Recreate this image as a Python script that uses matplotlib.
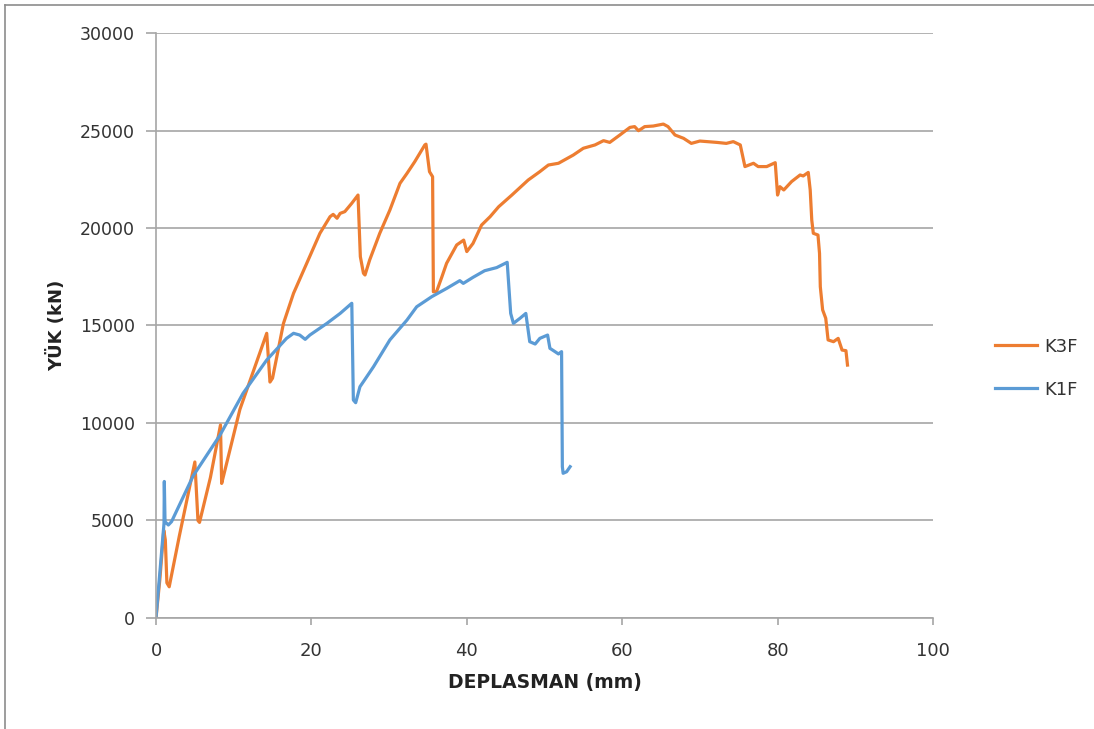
import matplotlib.pyplot as plt
from matplotlib.lines import Line2D

# K3F load-displacement curve
k3f_x = [0, 0.5, 1.0, 1.2, 1.4, 1.7, 3.0, 5.0, 5.4, 5.6, 7.0, 8.3, 8.45, 8.7, 10.8,
         14.25, 14.67, 15.0, 16.4, 17.7, 19.4, 21.1, 22.4, 22.8, 23.3, 23.7, 24.3,
         25.2, 26.0, 26.3, 26.7, 26.9, 27.5, 28.8, 30.1, 31.4, 32.3, 33.3, 34.6,
         34.75, 35.2, 35.6, 35.7, 36.1, 36.8, 37.4, 38.7, 39.6, 40.0, 40.8, 41.9,
         43.0, 44.1, 45.8, 47.9, 49.4, 50.5, 51.8, 53.7, 55.0, 56.5, 57.6, 58.4,
         59.7, 61.0, 61.6, 62.1, 62.9, 64.0, 65.3, 65.9, 66.8, 67.9, 68.9, 70.0,
         72.2, 73.4, 74.3, 75.2, 75.8, 76.9, 77.5, 78.6, 79.7, 80.0, 80.3, 80.8,
         81.8, 82.9, 83.3, 83.95, 84.2, 84.4, 84.6, 85.2, 85.4, 85.5, 85.8, 86.2,
         86.5, 87.2, 87.8, 88.3, 88.8, 89.0]
k3f_y = [0, 2000, 4500, 4000, 1800, 1600, 4200, 8000, 5000, 4900, 7200, 9900, 6900,
         7300, 10700, 14600, 12100, 12300, 15100, 16650, 18190, 19730, 20580,
         20700, 20500, 20750, 20840, 21270, 21690, 18530, 17680, 17590, 18360,
         19730, 20920, 22290, 22800, 23400, 24260, 24300, 22890, 22630, 16730,
         16730, 17500, 18190, 19130, 19380, 18790, 19210, 20150, 20580, 21090,
         21690, 22460, 22890, 23230, 23320, 23740, 24090, 24260, 24480, 24390,
         24770, 25160, 25200, 24990, 25200, 25230, 25330, 25200, 24770, 24600,
         24340, 24460, 24390, 24340, 24430, 24260, 23150, 23320, 23150, 23150,
         23350, 21690, 22120, 21950, 22380, 22720, 22670, 22850, 21950, 20410,
         19730, 19640, 18700, 16990, 15800, 15370, 14260, 14170, 14340, 13740,
         13710, 12970]

# K1F load-displacement curve
k1f_x = [0, 1.03, 1.07, 1.16, 1.59, 2.0, 4.8, 8.24, 11.2, 14.25, 16.8, 17.7, 18.5,
         19.2, 19.8, 22.0, 23.7, 25.2, 25.4, 25.7, 26.25, 26.9, 28.0, 30.1, 32.3,
         33.55, 35.5, 37.4, 39.1, 39.55, 40.8, 42.3, 43.85, 45.2, 45.65, 46.0,
         46.85, 47.6, 48.1, 48.8, 49.4, 50.4, 50.7, 51.35, 51.8, 52.2, 52.3, 52.4,
         52.85, 53.3]
k1f_y = [0, 4850, 7000, 4940, 4770, 4940, 7300, 9380, 11520, 13230, 14340, 14600,
         14510, 14290, 14510, 15110, 15620, 16140, 11180, 11040, 11860, 12240,
         12890, 14260, 15280, 15960, 16480, 16900, 17300, 17160, 17470, 17810,
         17970, 18240, 15620, 15110, 15370, 15620, 14170, 14050, 14340, 14510,
         13830, 13660, 13540, 13660, 7760, 7420, 7500, 7760]

x_ticks = [0, 20, 40, 60, 80, 100]
y_ticks = [0, 5000, 10000, 15000, 20000, 25000, 30000]

orange = '#ED7D31'
blue = '#5B9BD5'
grid_c = '#a6a6a6'

fig = plt.figure(figsize=(10.94, 7.29), dpi=100)
ax = fig.add_axes([0.1426, 0.1523, 0.7102, 0.8024])

ax.plot(k3f_x, k3f_y, color=orange, lw=2.3, solid_joinstyle='round', label='K3F')
ax.plot(k1f_x, k1f_y, color=blue, lw=2.3, solid_joinstyle='round', label='K1F')

ax.set_xlim(0, 100)
ax.set_ylim(0, 30000)
ax.set_xticks(x_ticks)
ax.set_yticks(y_ticks)
ax.yaxis.grid(True, color=grid_c, lw=1.2)
ax.set_axisbelow(True)
for s in ['top', 'right']:
    ax.spines[s].set_visible(False)
for s in ['left', 'bottom']:
    ax.spines[s].set_color(grid_c)
    ax.spines[s].set_linewidth(1.2)

ax.tick_params(axis='y', direction='out', length=7, color=grid_c, width=1.2,
               labelsize=12.5, pad=8, labelcolor='#333333')
ax.tick_params(axis='x', direction='out', length=5, color=grid_c, width=1.2,
               labelsize=13, pad=12, labelcolor='#333333')
for lb in ax.get_xticklabels():
    lb.set_fontfamily(['Liberation Sans Narrow', 'DejaVu Sans'])
for lb in ax.get_yticklabels():
    lb.set_fontfamily('DejaVu Sans')

ax.set_xlabel('DEPLASMAN (mm)', fontsize=13.5, fontweight='bold', color='#222222',
              family=['Liberation Sans Narrow', 'DejaVu Sans'], labelpad=10)
ax.set_ylabel('YÜK (kN)', fontsize=13, fontweight='bold', color='#222222',
              family='DejaVu Sans', labelpad=10)

handles = [Line2D([], [], color=orange, lw=2.3), Line2D([], [], color=blue, lw=2.3)]
leg = fig.legend(handles, ['K3F', 'K1F'], loc='center left',
                 bbox_to_anchor=(0.895, 0.495), frameon=False, fontsize=13,
                 handlelength=2.3, labelspacing=1.4, handletextpad=0.4)
for t in leg.get_texts():
    t.set_color('#333333')

# outer chart frame (only top and left visible)
fig.add_artist(Line2D([0.005, 0.005], [0, 0.993], transform=fig.transFigure,
                      color='#8c8c8c', lw=1.2))
fig.add_artist(Line2D([0.005, 1.0], [0.993, 0.993], transform=fig.transFigure,
                      color='#8c8c8c', lw=1.2))

fig.savefig('out.png', dpi=100, facecolor='white')
